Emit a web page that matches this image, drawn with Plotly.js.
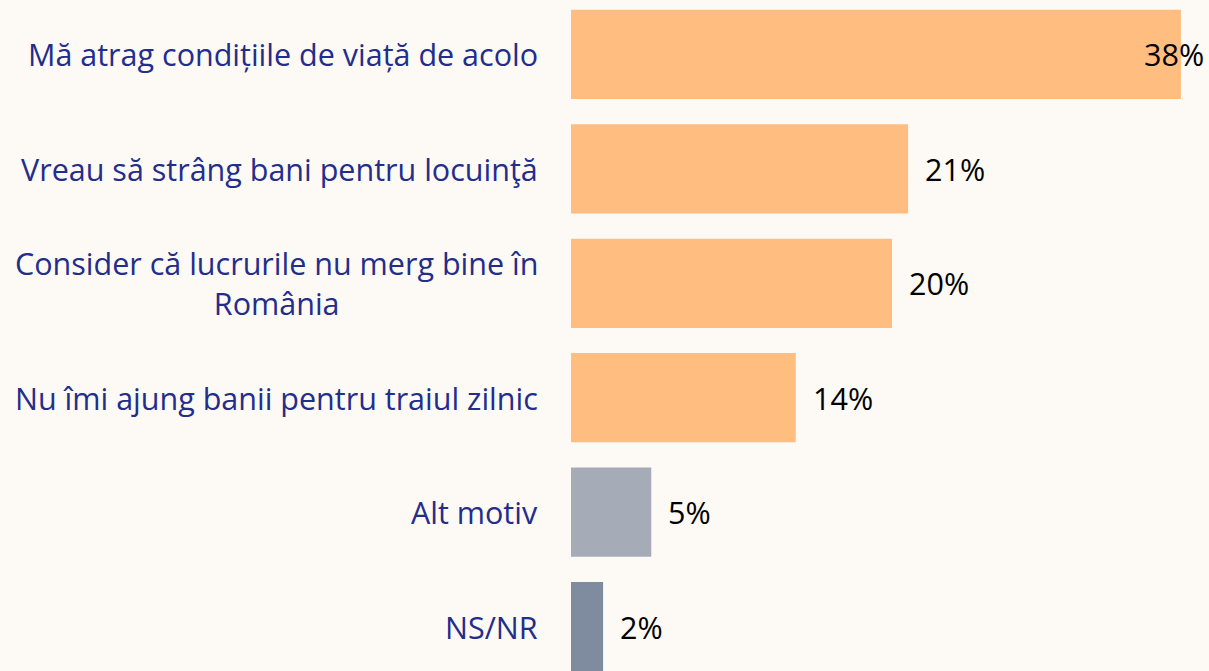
<!DOCTYPE html>
<html>
<head>
<meta charset="utf-8">
<script src="https://cdn.plot.ly/plotly-3.0.1.min.js"></script>
<style>html,body{margin:0;padding:0;background:#FDF9F4;}#chart{width:1209px;height:671px;}</style>
</head>
<body>
<div id="chart"></div>
<script>
const categories = [
  "Mă atrag condițiile de viață de acolo",
  "Vreau să strâng bani pentru locuinţă",
  "Consider că lucrurile nu merg bine în<br>România",
  "Nu îmi ajung banii pentru traiul zilnic",
  "Alt motiv",
  "NS/NR"
];
const values = [38, 21, 20, 14, 5, 2];
const barColors = ["#FFBE80", "#FFBE80", "#FFBE80", "#FFBE80", "#A5ACB8", "#7F8B9E"];
const valueLabels = values.map(v => v + "%");

const FONT = "'Segoe UI', 'Open Sans', 'Noto Sans', sans-serif";
const labelColor = "#222D8C";

const annotations = [];
categories.forEach((c, i) => {
  annotations.push({
    x: 0, y: i, xref: 'x', yref: 'y', text: c, showarrow: false,
    xanchor: 'right', yanchor: 'middle', align: 'center', xshift: -31,
    font: {family: FONT, size: 30.5, color: labelColor}
  });
});
values.forEach((v, i) => {
  const fits = i !== 0;
  annotations.push({
    x: v, y: i, xref: 'x', yref: 'y', text: valueLabels[i], showarrow: false,
    xanchor: fits ? 'left' : 'right', yanchor: 'middle', xshift: fits ? 15 : 25,
    font: {family: FONT, size: 30.5, color: '#000000'}
  });
});

Plotly.newPlot('chart', [{
  type: 'bar', orientation: 'h',
  y: categories.map((c, i) => i), x: values,
  marker: {color: barColors},
  width: 0.78,
  hoverinfo: 'none'
}], {
  width: 1209, height: 671,
  margin: {l: 571, r: 0, t: 0, b: 0, pad: 0},
  paper_bgcolor: '#FDF9F4', plot_bgcolor: '#FDF9F4',
  showlegend: false,
  xaxis: {range: [0, 39.75], showgrid: false, zeroline: false, showticklabels: false, showline: false, fixedrange: true},
  yaxis: {range: [5.389, -0.476], showgrid: false, zeroline: false, showticklabels: false, showline: false, fixedrange: true},
  annotations: annotations
}, {displayModeBar: false, staticPlot: true});
</script>
</body>
</html>
